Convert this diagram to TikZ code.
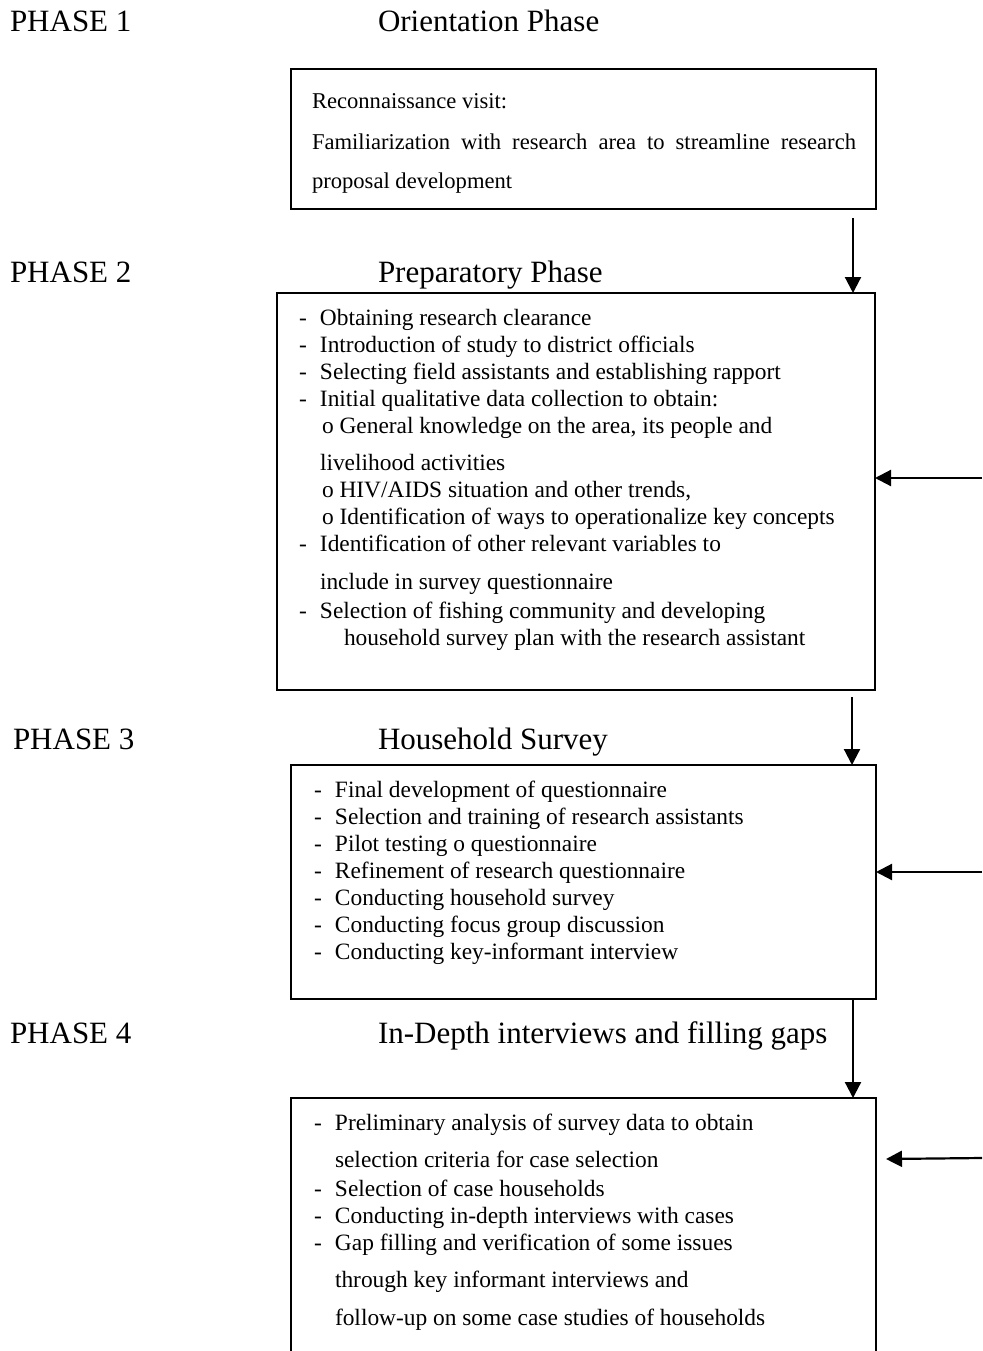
\documentclass[tikz,border=0pt]{standalone}
\usepackage{fontspec}
\setmainfont{Liberation Serif}
\usetikzlibrary{arrows.meta}
\newcommand{\dsh}[1]{\makebox[#1][l]{-}}
\begin{document}
\begin{tikzpicture}[x=1pt,y=-1pt,
  txt/.style={anchor=base west,inner sep=0pt,outer sep=0pt,font=\fontsize{23.4}{27}\selectfont},
  txtA/.style={txt,font=\fontsize{22.6}{27}\selectfont},
  head/.style={anchor=base west,inner sep=0pt,outer sep=0pt,font=\fontsize{31}{36}\selectfont},
  boxline/.style={draw,line width=1.6pt,inner sep=0pt,outer sep=0pt,anchor=north west},
  flow/.style={line width=2.2pt,-{Triangle[length=16pt,width=16pt]}}]
\useasboundingbox (0,0) rectangle (982,1351);

% headings
\node[head] (ph1) at (10,32) {PHASE 1};
\node[head] (t1) at (378,32) {Orientation Phase};
\node[head] (ph2) at (10,282) {PHASE 2};
\node[head] (t2) at (378,282) {Preparatory Phase};
\node[head] (ph3) at (13,749) {PHASE 3};
\node[head] (t3) at (378,749) {Household Survey};
\node[head] (ph4) at (10,1043) {PHASE 4};
\node[head] (t4) at (378,1043) {In-Depth interviews and filling gaps};

% boxes
\node[boxline,minimum width=585pt,minimum height=140pt] (b1) at (291,69) {};
\node[boxline,minimum width=598pt,minimum height=397pt] (b2) at (277,293) {};
\node[boxline,minimum width=585pt,minimum height=234pt] (b3) at (291,765) {};
\node[inner sep=0pt,outer sep=0pt,anchor=north west,minimum width=585pt,minimum height=260pt] (b4) at (291,1098) {};
\draw[line width=1.6pt] (b4.south west) -- (b4.north west) -- (b4.north east) -- (b4.south east);

% box 1 text
\node[txtA] (l11) at (312,109) {Reconnaissance visit:};
\node[txtA] (l12) at (312,150) {\hbox to 544pt{Familiarization\hfill with\hfill research\hfill area\hfill to\hfill streamline\hfill research}};
\node[txtA] (l13) at (312,189) {proposal development};

% box 2 text
\node[txt] (l21) at (299,325) {\dsh{21pt}Obtaining research clearance};
\node[txt] (l22) at (299,352) {\dsh{21pt}Introduction of study to district officials};
\node[txt] (l23) at (299,379) {\dsh{21pt}Selecting field assistants and establishing rapport};
\node[txt] (l24) at (299,406) {\dsh{21pt}Initial qualitative data collection to obtain:};
\node[txt] (l25) at (322,433) {o General knowledge on the area, its people and};
\node[txt] (l26) at (320,470) {livelihood activities};
\node[txt] (l27) at (322,497) {o HIV/AIDS situation and other trends,};
\node[txt] (l28) at (322,524) {o Identification of ways to operationalize key concepts};
\node[txt] (l29) at (299,551) {\dsh{21pt}Identification of other relevant variables to};
\node[txt] (l210) at (320,589) {include in survey questionnaire};
\node[txt] (l211) at (299,618) {\dsh{21pt}Selection of fishing community and developing};
\node[txt] (l212) at (344,645) {household survey plan with the research assistant};

% box 3 text
\node[txt] (l31) at (314,797) {\dsh{21pt}Final development of questionnaire};
\node[txt] (l32) at (314,824) {\dsh{21pt}Selection and training of research assistants};
\node[txt] (l33) at (314,851) {\dsh{21pt}Pilot testing o questionnaire};
\node[txt] (l34) at (314,878) {\dsh{21pt}Refinement of research questionnaire};
\node[txt] (l35) at (314,905) {\dsh{21pt}Conducting household survey};
\node[txt] (l36) at (314,932) {\dsh{21pt}Conducting focus group discussion};
\node[txt] (l37) at (314,959) {\dsh{21pt}Conducting key-informant interview};

% box 4 text
\node[txt] (l41) at (314,1130) {\dsh{21pt}Preliminary analysis of survey data to obtain};
\node[txt] (l42) at (335,1167) {selection criteria for case selection};
\node[txt] (l43) at (314,1196) {\dsh{21pt}Selection of case households};
\node[txt] (l44) at (314,1223) {\dsh{21pt}Conducting in-depth interviews with cases};
\node[txt] (l45) at (314,1250) {\dsh{21pt}Gap filling and verification of some issues};
\node[txt] (l46) at (335,1287) {through key informant interviews and};
\node[txt] (l47) at (335,1325) {follow-up on some case studies of households};

% vertical arrows
\coordinate (a1) at (853,218);
\draw[flow] (a1) -- (a1 |- b2.north);
\coordinate (a2) at (852,697);
\draw[flow] (a2) -- (a2 |- b3.north);
\coordinate (a3) at (853,0);
\draw[flow] (a3 |- b3.south) -- (a3 |- b4.north);

% side arrows
\coordinate (s2) at (982,478);
\draw[flow] (s2) -- (s2 -| b2.east);
\coordinate (s3) at (982,872);
\draw[flow] (s3) -- (s3 -| b3.east);
\coordinate (s4) at (982,1158);
\coordinate (s4e) at (886,1159);
\draw[flow] (s4) -- (s4e);
\end{tikzpicture}
\end{document}
